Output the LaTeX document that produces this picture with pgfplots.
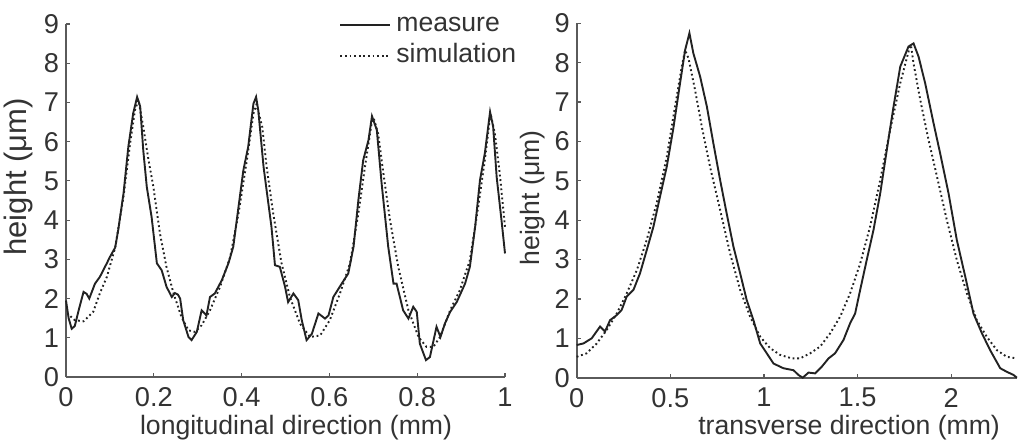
\documentclass[border=0pt]{standalone}
\usepackage{fontspec}
\setmainfont{Liberation Sans}
\usepackage{pgfplots}
\pgfplotsset{compat=1.18}

\definecolor{txt}{HTML}{333333}
\definecolor{ax}{HTML}{5A5A5A}
\definecolor{crv}{HTML}{222222}

\pgfplotsset{
  profile/.style={
    scale only axis,
    anchor=south west,
    axis lines=left,
    axis line style={-, ax, line width=0.8pt},
    tick align=inside,
    major tick length=2pt,
    tick style={ax, line width=0.6pt},
    ymin=0, ymax=9, ytick={0,...,9},
    clip=false,
    /pgf/number format/assume math mode=true,
    every tick label/.append style={font=\fontsize{13.6}{16}\selectfont, text=txt},
    xticklabel style={inner sep=1pt, yshift=-4pt},
    label style={font=\fontsize{13.3}{15}\selectfont, text=txt, inner sep=0pt},
  },
  meas/.style={crv, line width=0.95pt},
  sim/.style={crv, line width=0.95pt, dash pattern=on 0.9pt off 1.4pt},
}

\begin{document}
\begin{tikzpicture}
\path[use as bounding box] (-33pt,-31pt) rectangle (477.5pt,188.5pt);

% longitudinal profile
\begin{axis}[profile,
  at={(0pt,0pt)},
  width=219.5pt, height=176.5pt,
  xmin=0, xmax=1, xtick={0,0.2,...,1},
  xlabel={longitudinal direction (mm)},
  ylabel={height (μm)},
  xlabel style={at={(rel axis cs:0.524,-0.142)}, anchor=center},
  ylabel style={at={(rel axis cs:-0.109,0.567)}, anchor=center, font=\fontsize{15.5}{17}\selectfont},
  legend style={draw=none, fill=none, at={(rel axis cs:0.622,1.03)}, anchor=north west,
    inner sep=0pt, row sep=4pt, column sep=2.5pt,
    nodes={inner sep=0pt, text height=9pt, text depth=2.5pt, font=\fontsize{13.3}{15}\selectfont, text=txt}},
  legend cell align=left,
  legend image code/.code={\draw[#1] (0pt,0pt) -- (25pt,0pt);},
]
\addplot[meas] coordinates {
(0,1.95) (0.006,1.5) (0.013,1.23) (0.02,1.3) (0.03,1.75) (0.04,2.17) (0.047,2.12)
(0.053,2.0) (0.066,2.38) (0.077,2.55) (0.093,2.9) (0.1,3.06) (0.112,3.3) (0.119,3.75)
(0.131,4.68) (0.142,5.87) (0.153,6.72) (0.162,7.14) (0.169,6.9) (0.176,5.78) (0.184,4.85)
(0.195,4.08) (0.207,2.9) (0.218,2.72) (0.229,2.3) (0.241,2.04) (0.248,2.14) (0.255,2.1)
(0.26,2.0) (0.267,1.45) (0.279,1.02) (0.286,0.94) (0.298,1.15) (0.309,1.7) (0.32,1.57)
(0.328,2.04) (0.339,2.13) (0.355,2.47) (0.37,2.9) (0.381,3.32) (0.393,4.34) (0.404,5.27)
(0.415,5.87) (0.427,6.97) (0.433,7.14) (0.438,6.8) (0.45,5.36) (0.457,4.76) (0.468,3.83)
(0.476,2.85) (0.487,2.81) (0.499,2.3) (0.506,1.91) (0.518,2.13) (0.529,1.96) (0.537,1.45)
(0.548,0.94) (0.56,1.1) (0.575,1.62) (0.59,1.49) (0.598,1.57) (0.609,2.04) (0.628,2.38)
(0.643,2.64) (0.655,3.32) (0.666,4.51) (0.677,5.53) (0.689,6.04) (0.697,6.65) (0.708,6.3)
(0.719,4.93) (0.734,3.32) (0.746,2.38) (0.753,2.38) (0.768,1.7) (0.78,1.49) (0.791,1.79)
(0.799,1.66) (0.806,0.85) (0.82,0.43) (0.829,0.51) (0.844,1.28) (0.853,1.02) (0.863,1.36)
(0.875,1.66) (0.89,1.91) (0.909,2.38) (0.92,2.81) (0.932,3.83) (0.943,5.02) (0.954,5.7)
(0.966,6.76) (0.973,6.38) (0.981,5.1) (0.992,4.0) (1.0,3.15)
};
\addlegendentry{measure}
\addplot[sim] coordinates {
(0.01,1.55) (0.02,1.45) (0.04,1.42) (0.062,1.66) (0.077,2.13) (0.093,2.55) (0.112,3.3)
(0.131,4.6) (0.146,5.95) (0.157,6.8) (0.165,7.06) (0.176,6.38) (0.188,5.53) (0.199,4.85)
(0.214,3.66) (0.229,2.8) (0.245,2.13) (0.263,1.53) (0.279,1.19) (0.294,1.15) (0.309,1.32)
(0.328,1.7) (0.351,2.3) (0.374,3.06) (0.393,4.17) (0.412,5.53) (0.427,6.72) (0.434,6.95)
(0.447,6.38) (0.457,5.36) (0.472,4.17) (0.491,2.9) (0.51,2.04) (0.533,1.36) (0.556,1.02)
(0.579,1.06) (0.601,1.45) (0.624,2.13) (0.647,2.9) (0.666,4.17) (0.681,5.36) (0.696,6.46)
(0.701,6.6) (0.711,6.2) (0.723,5.19) (0.738,4.0) (0.757,2.8) (0.78,1.7) (0.803,1.02)
(0.821,0.77) (0.837,0.77) (0.852,1.02) (0.875,1.7) (0.897,2.21) (0.92,2.98) (0.939,4.34)
(0.954,5.53) (0.967,6.72) (0.977,6.2) (0.988,5.19) (1.0,3.83)
};
\addlegendentry{simulation}
\end{axis}

% transverse profile
\begin{axis}[profile,
  at={(255.35pt,-0.35pt)},
  width=220pt, height=177.2pt,
  xmin=0, xmax=2.35, xtick={0,0.5,...,2},
  xlabel={transverse direction (mm)},
  ylabel={height (μm)},
  xlabel style={at={(rel axis cs:0.619,-0.141)}, anchor=center},
  ylabel style={at={(rel axis cs:-0.0995,0.507)}, anchor=center},
]
\addplot[meas] coordinates {
(0,0.83) (0.036,0.87) (0.08,1.0) (0.125,1.3) (0.151,1.17) (0.178,1.46) (0.214,1.59)
(0.24,1.72) (0.267,2.06) (0.303,2.23) (0.338,2.65) (0.374,3.24) (0.41,3.84) (0.445,4.6)
(0.481,5.36) (0.516,6.33) (0.552,7.48) (0.579,8.32) (0.602,8.75) (0.623,8.24) (0.659,7.65)
(0.695,6.89) (0.73,5.95) (0.766,5.02) (0.801,4.17) (0.837,3.33) (0.873,2.65) (0.908,1.97)
(0.944,1.46) (0.98,0.87) (1.015,0.62) (1.051,0.36) (1.104,0.24) (1.158,0.19) (1.184,0.07)
(1.207,0.0) (1.238,0.13) (1.273,0.11) (1.309,0.28) (1.345,0.49) (1.38,0.62) (1.425,0.96)
(1.46,1.38) (1.487,1.63) (1.514,2.23) (1.549,2.99) (1.585,3.75) (1.621,4.68) (1.656,5.78)
(1.692,6.88) (1.728,7.9) (1.772,8.41) (1.799,8.49) (1.826,8.15) (1.861,7.48) (1.906,6.46)
(1.941,5.7) (1.986,4.68) (2.03,3.5) (2.075,2.57) (2.119,1.63) (2.164,1.13) (2.208,0.7)
(2.262,0.24) (2.297,0.15) (2.333,0.07) (2.351,0.0)
};
\addplot[sim] coordinates {
(0,0.53) (0.053,0.62) (0.107,0.87) (0.16,1.21) (0.214,1.63) (0.267,2.14) (0.321,2.73)
(0.374,3.5) (0.427,4.43) (0.481,5.61) (0.525,6.88) (0.561,7.9) (0.579,8.32) (0.597,8.11)
(0.632,7.31) (0.668,6.38) (0.712,5.36) (0.766,4.26) (0.819,3.16) (0.873,2.23) (0.926,1.55)
(0.98,1.04) (1.033,0.75) (1.086,0.58) (1.149,0.49) (1.193,0.49) (1.247,0.62) (1.3,0.79)
(1.354,1.13) (1.407,1.55) (1.46,2.14) (1.514,2.9) (1.567,3.84) (1.621,5.02) (1.674,6.29)
(1.728,7.48) (1.772,8.28) (1.785,8.45) (1.799,7.98) (1.835,7.05) (1.879,6.04) (1.924,5.11)
(1.977,4.0) (2.03,2.99) (2.084,2.14) (2.137,1.46) (2.19,1.04) (2.244,0.7) (2.297,0.53)
(2.351,0.49)
};
\end{axis}
\end{tikzpicture}
\end{document}
